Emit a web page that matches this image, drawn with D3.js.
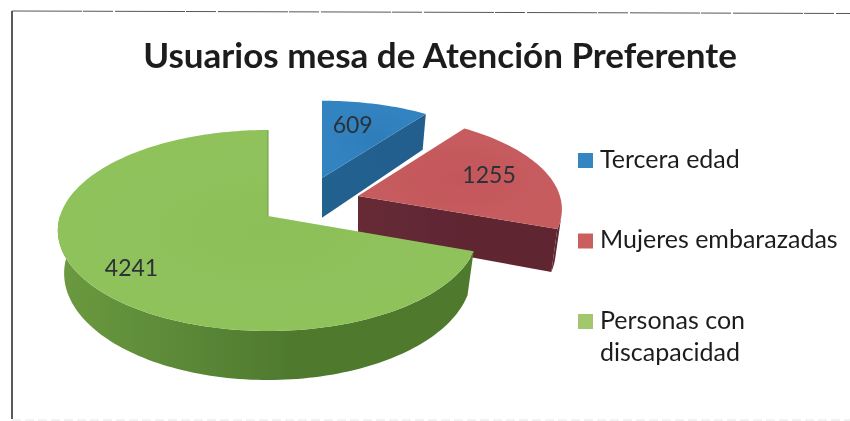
<!DOCTYPE html>
<html>
<head>
    <title>Usuarios mesa de Atencion Preferente</title>
    <script src="https://d3js.org/d3.v7.min.js"></script>
    <style>
        html, body { margin: 0; padding: 0; background: #fff; }
        text { font-family: Lato, "Open Sans", sans-serif; }
    </style>
</head>
<body>
    <script>
        var titleText = "Usuarios mesa de Atención Preferente";
        var categories = ["Tercera edad", "Mujeres embarazadas", "Personas con discapacidad"];
        var values = [609, 1255, 4241];
        var legendLines = [["Tercera edad"], ["Mujeres embarazadas"], ["Personas con", "discapacidad"]];

        var width = 850, height = 421;
        var svg = d3.select("body")
            .append("svg")
            .attr("width", width)
            .attr("height", height)
            .style("display", "block");

        var defs = svg.append("defs");
        defs.append("filter").attr("id", "soft")
            .attr("x", "-2%").attr("y", "-2%").attr("width", "104%").attr("height", "104%")
            .append("feGaussianBlur").attr("stdDeviation", 0.5);

        var topColor = d3.scaleOrdinal().domain(categories).range(["#2e7dba", "#c3575b", "#8dbf59"]);
        var topEdge = d3.scaleOrdinal().domain(categories).range(["#3284c1", "#c75c5f", "#90c25c"]);
        var sideDark = d3.scaleOrdinal().domain(categories).range(["#205f8f", "#5f2733", "#4f7a2f"]);
        var sideLight = d3.scaleOrdinal().domain(categories).range(["#22628f", "#662a36", "#6b9a40"]);

        // the tilted disc: cx,cy is where the slices meet, p is the perspective strength
        var cx = 267, cy = 216, rx = 208, ry = 98.4, p = 0.144, depth = 42, bottomShrink = 0.97;

        // how far each slice is pulled out, and where its label sits on the disc
        var slicePull = [
            {dx: 55, dv: -0.409, lu: 0.17, lv: -0.66},
            {dx: 91, dv: -0.21, lu: 0.67, lv: -0.23},
            {dx: 1, dv: 0, lu: -0.61, lv: 0.49}
        ];

        function project(u, v, pull, atBottom) {
            var vv = v + pull.dv;
            var s = 1 / (1 - p * vv);
            var k = atBottom ? bottomShrink : 1;
            return [
                cx + pull.dx + rx * u * s * k,
                cy + ry * vv * s + (atBottom ? depth * s : 0)
            ];
        }

        function rimPoints(a0, a1, pull, atBottom) {
            var n = Math.max(2, Math.ceil((a1 - a0) * 40));
            return d3.range(n + 1).map(function(i) {
                var a = a0 + (a1 - a0) * i / n;
                return project(Math.sin(a), -Math.cos(a), pull, atBottom);
            });
        }

        var line = d3.line();
        var pie = d3.pie().sort(null);
        var arcs = pie(values);

        var chart = svg.append("g").attr("filter", "url(#soft)");

        // frame of the scanned figure
        var frame = chart.append("g").attr("fill", "none");
        frame.append("path").attr("d", line([[12, 419], [12, 11]]))
            .attr("stroke", "#222").attr("stroke-width", 1.5);
        frame.append("path").attr("d", line([[12, 11], [850, 13.5]]))
            .attr("stroke", "#555").attr("stroke-width", 1).attr("stroke-dasharray", "70 1 30 2");
        frame.append("path").attr("d", line([[12, 420], [850, 420]]))
            .attr("stroke", "#e4e4e4").attr("stroke-width", 1).attr("stroke-dasharray", "9 4");

        // back to front so the green slice lies over the red corner
        arcs.forEach(function(d, i) {
            var name = categories[i];
            var pull = slicePull[i];
            var g = chart.append("g");

            var gid = "side" + i;
            var grad = defs.append("linearGradient").attr("id", gid)
                .attr("gradientUnits", "objectBoundingBox");
            grad.append("stop").attr("offset", "0%").attr("stop-color", sideLight(name));
            grad.append("stop").attr("offset", "55%").attr("stop-color", sideDark(name));
            grad.append("stop").attr("offset", "100%").attr("stop-color", sideDark(name));

            var tid = "top" + i;
            var tgrad = defs.append("radialGradient").attr("id", tid);
            tgrad.append("stop").attr("offset", "0%").attr("stop-color", topColor(name));
            tgrad.append("stop").attr("offset", "100%").attr("stop-color", topEdge(name));

            var apexTop = project(0, 0, pull, false);
            var apexBottom = project(0, 0, pull, true);

            // radial wall on the clockwise end, when it faces the viewer
            if (d.endAngle < Math.PI * 1.5) {
                var endTop = project(Math.sin(d.endAngle), -Math.cos(d.endAngle), pull, false);
                var endBottom = project(Math.sin(d.endAngle), -Math.cos(d.endAngle), pull, true);
                g.append("path")
                    .attr("d", line([apexTop, endTop, endBottom, apexBottom]) + "Z")
                    .attr("fill", "url(#" + gid + ")");
            }

            // outer wall, only the part of the rim that is in front
            var wall0 = Math.max(d.startAngle, Math.PI / 2 - Math.asin(pull.dv));
            var wall1 = Math.min(d.endAngle, Math.PI * 1.5);
            if (wall1 > wall0) {
                var up = rimPoints(wall0, wall1, pull, false);
                var down = rimPoints(wall0, wall1, pull, true).reverse();
                g.append("path")
                    .attr("d", line(up.concat(down)) + "Z")
                    .attr("fill", "url(#" + gid + ")");
            }

            // top face
            var face = [apexTop].concat(rimPoints(d.startAngle, d.endAngle, pull, false));
            g.append("path")
                .attr("d", line(face) + "Z")
                .attr("fill", "url(#" + tid + ")");

            if (i === 2) {
                g.append("path")
                    .attr("d", line([apexTop, project(0, -1, pull, false)]))
                    .attr("stroke", sideLight(name))
                    .attr("stroke-width", 1);
            }
        });

        // value labels
        arcs.forEach(function(d, i) {
            var pos = project(slicePull[i].lu, slicePull[i].lv, slicePull[i], false);
            chart.append("text")
                .attr("x", pos[0])
                .attr("y", pos[1])
                .attr("dy", "0.35em")
                .attr("text-anchor", "middle")
                .attr("font-size", 23)
                .attr("fill", "#2c3038")
                .text(values[i]);
        });

        chart.append("text")
            .attr("x", 440)
            .attr("y", 68)
            .attr("text-anchor", "middle")
            .attr("font-size", 35)
            .attr("font-weight", 700)
            .attr("fill", "#1c1c1c")
            .text(titleText);

        // legend
        var legendY = d3.scalePoint().domain(categories).range([161, 322]);
        var legendColor = d3.scaleOrdinal().domain(categories).range(["#3585c3", "#c9605f", "#a3c76c"]);

        categories.forEach(function(name, i) {
            var y = legendY(name);
            chart.append("rect")
                .attr("x", 578)
                .attr("y", y - 8)
                .attr("width", 15)
                .attr("height", 15)
                .attr("fill", legendColor(name));

            legendLines[i].forEach(function(t, j) {
                chart.append("text")
                    .attr("x", 600)
                    .attr("y", y + 6.5 + j * 32)
                    .attr("font-size", 25)
                    .attr("fill", "#1f1f1f")
                    .text(t);
            });
        });
    </script>
</body>
</html>
